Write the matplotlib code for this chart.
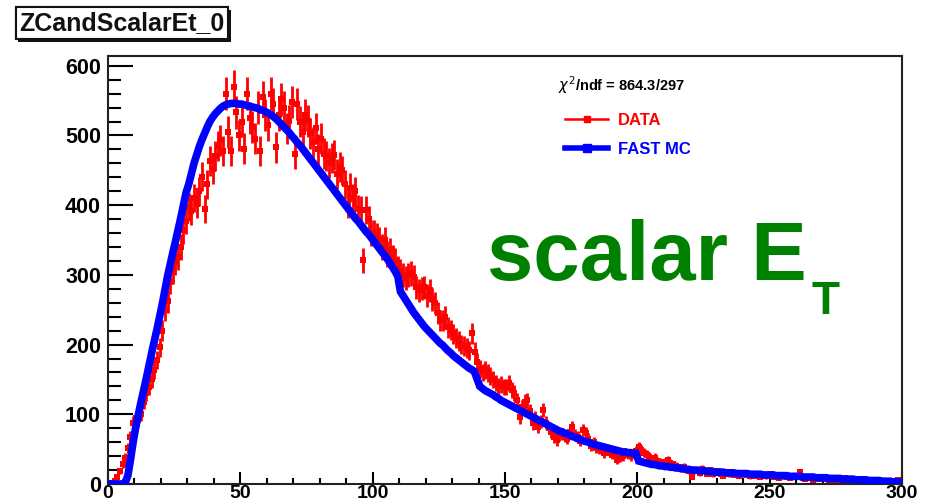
import numpy as np
import matplotlib
matplotlib.use('Agg')
import matplotlib.pyplot as plt
import matplotlib.patheffects as pe
from matplotlib.lines import Line2D

plt.rcParams['font.family'] = ['Liberation Sans', 'DejaVu Sans']
plt.rcParams['mathtext.fontset'] = 'dejavusans'

# ---------------------------------------------- data (1 GeV bins, 0..300)
title = 'ZCandScalarEt_0'
chi2_text = r'$\chi^{2}$/ndf = 864.3/297'
labels = ['DATA', 'FAST MC']

data_counts = [
    0, 2, 5, 10, 18, 28, 38, 52, 68, 88,
    95, 92, 100, 118, 130, 139, 150, 163, 178, 196,
    220, 249, 262, 290, 304, 318, 325, 340, 364, 378,
    397, 392, 410, 402, 420, 441, 395, 430, 464, 452,
    470, 485, 493, 478, 560, 505, 478, 570, 533, 500,
    520, 481, 560, 525, 512, 495, 540, 478, 555, 530,
    515, 560, 545, 483, 530, 552, 540, 510, 521, 548,
    474, 545, 520, 505, 530, 521, 503, 490, 510, 480,
    495, 474, 470, 460, 468, 472, 445, 455, 450, 430,
    402, 425, 410, 420, 395, 393, 321, 393, 380, 360,
    360, 355, 350, 340, 350, 330, 335, 325, 320, 310,
    305, 300, 295, 300, 302, 297, 282, 278, 280, 282,
    270, 278, 265, 260, 245, 235, 235, 240, 225, 221,
    215, 210, 205, 200, 198, 195, 192, 216, 190, 175,
    165, 160, 163, 159, 155, 150, 145, 140, 143, 139,
    139, 145, 135, 130, 120, 96, 110, 118, 120, 105,
    87, 95, 82, 90, 106, 88, 80, 75, 67, 63,
    70, 72, 68, 65, 75, 82, 70, 68, 62, 77,
    73, 65, 55, 60, 52, 50, 48, 44, 50, 45,
    42, 40, 34, 38, 40, 45, 42, 40, 44, 48,
    53, 49, 45, 42, 39, 36, 38, 33, 32, 30,
    32, 34, 30, 28, 26, 24, 22, 25, 20, 18,
    10, 18, 20, 16, 22, 18, 15, 20, 14, 17,
    18, 15, 12, 16, 14, 17, 13, 15, 12, 14,
    16, 13, 11, 14, 12, 15, 10, 13, 11, 12,
    14, 10, 12, 9, 11, 13, 10, 8, 12, 10,
    11, 17, 9, 7, 10, 8, 6, 9, 7, 8,
    9, 7, 5, 8, 6, 7, 5, 6, 8, 4,
    6, 5, 7, 4, 6, 3, 5, 4, 6, 3,
    4, 5, 3, 4, 2, 5, 3, 4, 6, 5,
]

mc_counts = [
    0, 0, 0, 0, 0, 0, 2, 12, 35, 60,
    82, 100, 118, 135, 152, 170, 188, 205, 222, 240,
    258, 278, 298, 315, 332, 348, 365, 382, 400, 418,
    430, 445, 460, 472, 484, 494, 503, 512, 520, 526,
    531, 535, 539, 542, 544, 545, 546, 546, 546, 545,
    545, 544, 543, 542, 541, 540, 539, 537, 536, 534,
    532, 530, 527, 524, 520, 516, 512, 508, 504, 499,
    495, 490, 486, 481, 476, 471, 466, 461, 456, 451,
    446, 441, 436, 431, 426, 421, 416, 411, 406, 401,
    396, 391, 386, 381, 377, 372, 367, 362, 358, 353,
    348, 343, 338, 333, 328, 323, 317, 311, 305, 298,
    276, 270, 264, 258, 252, 246, 241, 236, 231, 226,
    222, 218, 214, 210, 206, 202, 199, 195, 191, 188,
    184, 181, 178, 175, 172, 169, 166, 164, 161, 150,
    140, 137, 134, 132, 130, 128, 125, 123, 120, 118,
    116, 114, 112, 110, 108, 106, 104, 102, 100, 98,
    96, 94, 92, 90, 88, 86, 84, 82, 80, 78,
    76, 75, 73, 72, 70, 68, 67, 65, 64, 62,
    61, 60, 58, 57, 56, 55, 54, 53, 52, 51,
    50, 49, 48, 47, 46, 46, 45, 45, 44, 44,
    33, 32, 31, 30, 29, 28, 28, 27, 26, 26,
    25, 25, 24, 24, 23, 23, 22, 22, 21, 21,
    20, 20, 20, 19, 19, 19, 18, 18, 18, 17,
    17, 17, 17, 16, 16, 16, 16, 15, 15, 15,
    15, 15, 14, 14, 14, 14, 14, 13, 13, 13,
    13, 13, 12, 12, 12, 12, 12, 11, 11, 11,
    11, 11, 10, 10, 10, 10, 10, 9, 9, 9,
    9, 9, 8, 8, 8, 8, 8, 7, 7, 7,
    7, 7, 6, 6, 6, 6, 6, 5, 5, 5,
    5, 5, 4, 4, 4, 4, 3, 3, 3, 3,
]

# ----------------------------------------------
data = np.array(data_counts, dtype=float)
mc = np.array(mc_counts, dtype=float)
x = np.arange(len(data)) + 0.5

fig = plt.figure(figsize=(9.31, 5.04), dpi=100)
ax = fig.add_axes([108/931, 20/504, 794/931, 428/504])

ax.errorbar(x, data, yerr=np.sqrt(data), xerr=0.5, fmt='s', color='#ff0000',
            ms=5, mew=0, elinewidth=2.0, capsize=0, zorder=2)
ax.plot(x, mc, '-', color='#0000ff', lw=5.5, solid_joinstyle='miter', zorder=3)

ax.set_xlim(0, 300)
ax.set_ylim(0, 614)
ax.set_xticks(np.arange(0, 301, 50))
ax.set_xticks(np.arange(0, 301, 10), minor=True)
ax.set_yticks(np.arange(0, 601, 100))
ax.set_yticks(np.arange(0, 601, 20), minor=True)
ax.tick_params(axis='both', which='both', direction='in', top=False, right=False,
               width=1.5, color='black')
ax.tick_params(axis='y', which='major', length=18, pad=5, labelsize=15.5)
ax.tick_params(axis='y', which='minor', length=9)
ax.tick_params(axis='x', which='major', length=9, pad=0.5, labelsize=14)
ax.tick_params(axis='x', which='minor', length=4.5)
for lab in ax.get_xticklabels() + ax.get_yticklabels():
    lab.set_fontweight('bold')
for s in ax.spines.values():
    s.set_linewidth(1.5)
    s.set_color('#222222')

# title box with ROOT-like shadow
t = fig.text(122/931, 1 - 23/504, title, ha='center', va='center',
             fontsize=18, fontweight='bold', color='#111111',
             bbox=dict(boxstyle='square,pad=0.15', fc='white', ec='#111111', lw=1.5))
t.get_bbox_patch().set_path_effects([
    pe.withSimplePatchShadow(offset=(2, -2), shadow_rgbFace='#111111', alpha=1.0),
    pe.Normal()])

# legend
fig.text(558/931, 1 - 85/504, chi2_text, ha='left', va='center', fontsize=10.5,
         fontweight='bold')
handles = [Line2D([], [], color='#ff0000', lw=1.8, marker='s', ms=5),
           Line2D([], [], color='#0000ff', lw=4, marker='s', ms=6)]
ax.legend(handles, labels, loc='upper left', frameon=False,
          bbox_to_anchor=(550/931, 1 - 98/504), bbox_transform=fig.transFigure,
          prop={'size': 12, 'weight': 'bold'}, labelcolor=['#ff0000', '#0000ff'],
          handlelength=2.6, handletextpad=0.6, labelspacing=0.85)

# big label
fig.text(487/931, 1 - 280/504, 'scalar E', ha='left', va='baseline',
         fontsize=60, fontweight='bold', color='#008000')
fig.text(812/931, 1 - 314/504, 'T', ha='left', va='baseline',
         fontsize=33, fontweight='bold', color='#008000')

fig.savefig('out.png', dpi=100)
